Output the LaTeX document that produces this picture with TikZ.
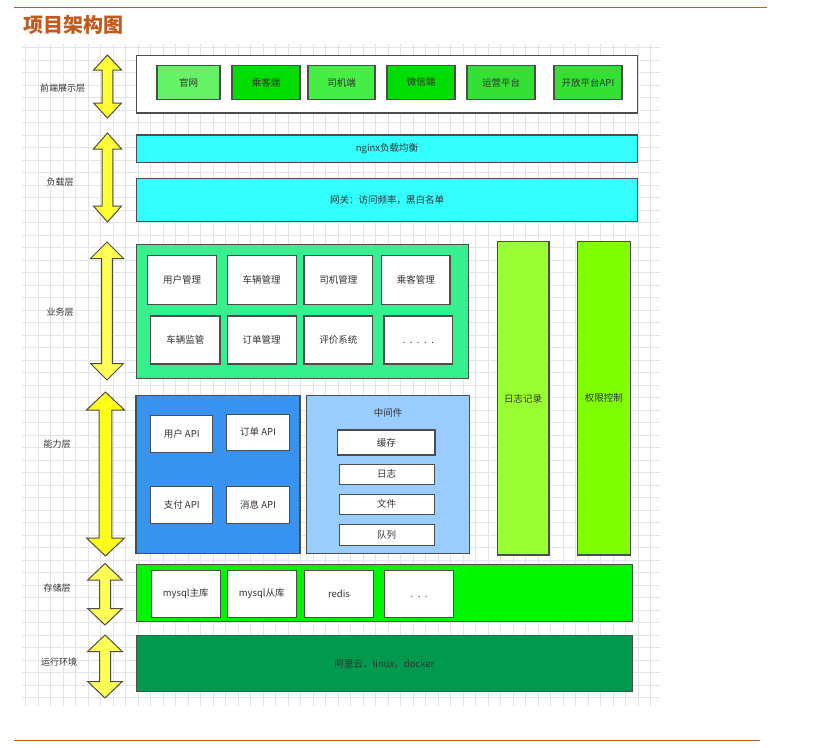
\documentclass[tikz,border=0pt]{standalone}
\usepackage{fontspec}
\setmainfont{Noto Sans CJK SC}
\definecolor{titlec}{HTML}{C05A1E}
\definecolor{bordc}{HTML}{4D4D4D}
\definecolor{txtc}{HTML}{333333}
\definecolor{gridc}{HTML}{E4E4E4}
\definecolor{gwc}{HTML}{66F266}
\definecolor{ckc}{HTML}{00DD00}
\definecolor{sjc}{HTML}{44EE44}
\definecolor{wxc}{HTML}{00DD00}
\definecolor{yyc}{HTML}{33E033}
\definecolor{kfc}{HTML}{33E033}
\definecolor{cyanc}{HTML}{33FFFF}
\definecolor{bizc}{HTML}{36F08F}
\definecolor{bluec}{HTML}{3792F0}
\definecolor{midc}{HTML}{99CCFF}
\definecolor{logc}{HTML}{99FF33}
\definecolor{authc}{HTML}{80FF00}
\definecolor{storc}{HTML}{00F500}
\definecolor{runc}{HTML}{00994D}
\definecolor{yelA}{HTML}{FFFF33}
\definecolor{yelB}{HTML}{FFFF55}
\definecolor{yelC}{HTML}{FFFF1A}
\newcommand{\fsz}{\fontsize{9.5}{11}\selectfont}
\newcommand{\lsz}{\fontsize{9}{11}\selectfont}
% vertical double arrow: cx, top, bottom, head half width, head length, shaft half width, fill
\newcommand{\vdarr}[7]{%
  \draw[arrowline, fill=#7] (#1,#2) -- (#1+#4,#2+#5) -- (#1+#6,#2+#5) -- (#1+#6,#3-#5)
    -- (#1+#4,#3-#5) -- (#1,#3) -- (#1-#4,#3-#5) -- (#1-#6,#3-#5) -- (#1-#6,#2+#5)
    -- (#1-#4,#2+#5) -- cycle;}
\begin{document}
\begin{tikzpicture}[x=1pt,y=-1pt,
  box/.style={draw=bordc, line width=1.1pt, inner sep=0pt, font=\fsz, text=txtc, rectangle},
  sz/.style 2 args={minimum width=#1pt, minimum height=#2pt},
  lbl/.style={font=\lsz, text=txtc, inner sep=0pt},
  arrowline/.style={draw=bordc, line width=1pt, line join=miter},
  rule/.style={draw=titlec, line width=1pt}]
\useasboundingbox (0,0) rectangle (821,747);
\fill[white] (0,0) rectangle (821,747);
% grid
\begin{scope}
\clip (22,44) rectangle (660,706);
\foreach \i in {0,...,50} \draw[gridc, line width=0.6pt] (25.5+12.5*\i,44) -- (25.5+12.5*\i,706);
\foreach \j in {0,...,52} \draw[gridc, line width=0.6pt] (22,47.5+12.5*\j) -- (660,47.5+12.5*\j);
\end{scope}
% rules and title
\coordinate (rt1) at (14,7); \coordinate (rt2) at (767,7);
\coordinate (rb1) at (14,740); \coordinate (rb2) at (760,740);
\draw[rule] (rt1) -- (rt2);
\draw[rule] (rb1) -- (rb2);
\node[anchor=west, inner sep=0pt, text=titlec, font=\bfseries\fontsize{20}{22}\selectfont] (title) at (23,24.5) {项目架构图};

% layer labels
\node[lbl] (L1) at (62.5,88) {前端展示层};
\node[lbl] (L2) at (60,182) {负载层};
\node[lbl] (L3) at (60,312) {业务层};
\node[lbl] (L4) at (57,444.5) {能力层};
\node[lbl] (L5) at (57,588.5) {存储层};
\node[lbl] (L6) at (59,662) {运行环境};

% arrows
\vdarr{107.5}{55}{118}{14}{15}{5.3}{yelA}
\vdarr{107.5}{133}{222}{14}{16}{5.3}{yelA}
\vdarr{107}{242}{380}{16.5}{16.5}{5.3}{yelB}
\vdarr{105.5}{392}{556}{19}{18}{6.3}{yelC}
\vdarr{105}{563.5}{625}{17.3}{16.5}{5.5}{yelB}
\vdarr{105}{635}{698}{17.3}{16.5}{5.5}{yelB}

% front layer
\node[box, fill=white, sz={501}{57.5}] (front) at (387,84.25) {};
\node[box, fill=gwc, sz={63}{33.3}] (gw) at (188.5,82.4) {官网};
\node[box, fill=ckc, sz={68}{33.3}] (ck) at (266,82.4) {乘客端};
\node[box, fill=sjc, sz={67}{33.3}] (sj) at (341.5,82.4) {司机端};
\node[box, fill=wxc, sz={68}{33.3}] (wx) at (421,82.4) {微信端};
\node[box, fill=yyc, sz={68}{33.3}] (yy) at (501,82.4) {运营平台};
\node[box, fill=kfc, sz={68}{33.3}] (kf) at (588,82.4) {开放平台API};

% load layer
\node[box, fill=cyanc, sz={501}{27.3}] (nginx) at (387,148.6) {nginx负载均衡};
\node[box, fill=cyanc, sz={501}{43.4}] (gate) at (387,200) {网关：访问频率，黑白名单};

% business layer
\node[box, fill=bizc, sz={332.3}{134}] (biz) at (302.2,311.3) {};
\node[box, fill=white, sz={69.4}{48.3}] (b1) at (182,279.9) {用户管理};
\node[box, fill=white, sz={68.7}{48.3}] (b2) at (261.7,279.9) {车辆管理};
\node[box, fill=white, sz={68.7}{48.3}] (b3) at (338.3,279.9) {司机管理};
\node[box, fill=white, sz={68.3}{48.3}] (b4) at (415.8,279.9) {乘客管理};
\node[box, fill=white, sz={69.3}{48}] (b5) at (185.3,340) {车辆监管};
\node[box, fill=white, sz={68.7}{48}] (b6) at (261.7,340) {订单管理};
\node[box, fill=white, sz={68.7}{48}] (b7) at (338.3,340) {评价系统};
\node[box, fill=white, sz={68.7}{48}] (b8) at (418.3,340) {\vphantom{用}.\hspace{4.5pt}.\hspace{4.5pt}.\hspace{4.5pt}.\hspace{4.5pt}.};

% ability layer
\node[box, fill=bluec, sz={164}{158.3}] (api) at (218,474.2) {};
\node[box, fill=white, sz={62}{36.6}] (a1) at (181.7,434) {用户 API};
\node[box, fill=white, sz={62.6}{36.3}] (a2) at (258,432.2) {订单 API};
\node[box, fill=white, sz={62}{36.6}] (a3) at (181.7,505) {支付 API};
\node[box, fill=white, sz={62.6}{36.6}] (a4) at (258,505) {消息 API};
\node[box, fill=midc, sz={162.6}{158.3}] (mid) at (388,474.2) {};
\node[lbl, font=\fsz] (midt) at (388,413.3) {中间件};
\node[box, fill=white, sz={97.3}{25}] (m1) at (386.3,442.5) {缓存};
\node[box, fill=white, sz={94.7}{20.3}] (m2) at (386.7,474.2) {日志};
\node[box, fill=white, sz={94.7}{20.3}] (m3) at (386.7,504.3) {文件};
\node[box, fill=white, sz={94.7}{20.3}] (m4) at (386.7,535) {队列};

% side columns
\node[box, fill=logc, sz={51.5}{313.2}] (logcol) at (523.2,398.4) {日志记录};
\node[box, fill=authc, sz={53.5}{313.2}] (authcol) at (603.8,398.4) {权限控制};

% storage layer
\node[box, fill=storc, sz={495.7}{57.4}] (stor) at (384.5,593) {};
\node[box, fill=white, sz={69}{47.5}] (s1) at (185.8,593.8) {mysql主库};
\node[box, fill=white, sz={68.5}{47.5}] (s2) at (261.8,593.8) {mysql从库};
\node[box, fill=white, sz={68.7}{47.5}] (s3) at (339,593.8) {redis};
\node[box, fill=white, sz={68.7}{47.5}] (s4) at (419.1,593.8) {\vphantom{用}.\hspace{4.5pt}.\hspace{4.5pt}.};

% runtime layer
\node[box, fill=runc, sz={495.7}{56}] (run) at (384.5,663.7) {阿里云，linux，docker};
\end{tikzpicture}
\end{document}
